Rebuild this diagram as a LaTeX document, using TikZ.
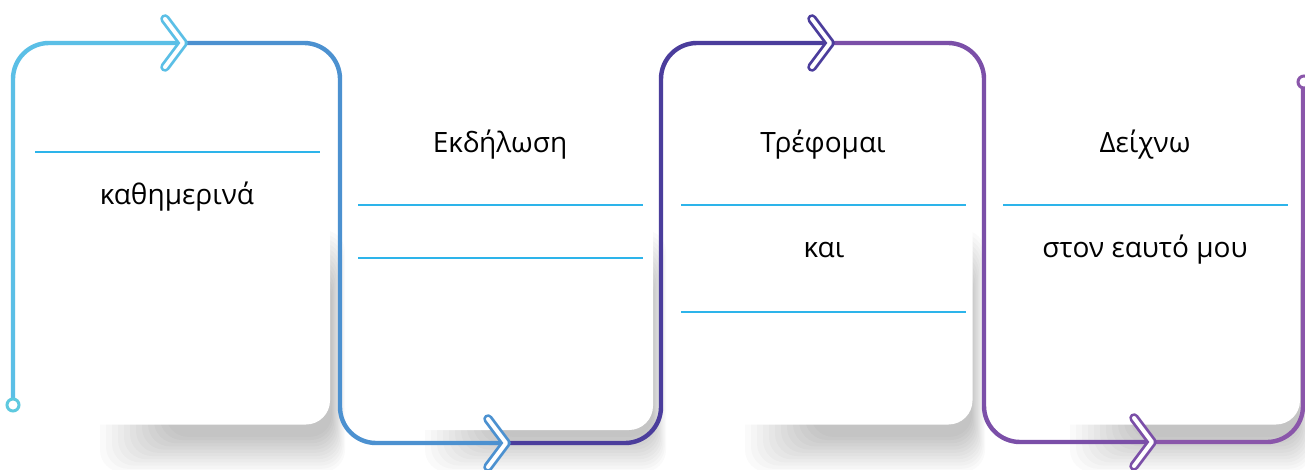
\documentclass[tikz,border=0pt]{standalone}
\usepackage{fontspec}
\setmainfont{Open Sans}
\definecolor{cA}{HTML}{5BBFE6}
\definecolor{cAa}{HTML}{5EC9DF}
\definecolor{cB}{HTML}{4C91D0}
\definecolor{cC}{HTML}{4B3D9C}
\definecolor{cD}{HTML}{7B4FA8}
\definecolor{cE}{HTML}{8A56AA}
\definecolor{rule}{HTML}{2DB4EA}
\tikzset{
  track/.style={line width=4.4pt, rounded corners=36pt, line cap=round},
  chev/.style={line width=2.8pt, double=white, double distance=4pt, line cap=round, line join=round},
  card/.style={rectangle, rounded corners=24pt, fill=white, draw=none, inner sep=0pt},
  shadowlayer/.style={fill=black, fill opacity=0.02, rounded corners=22pt},
  rulel/.style={draw=rule, line width=1.5pt},
  lbl/.style={anchor=base, inner sep=0pt, font=\fontsize{28}{32}\selectfont},
  endpt/.style={circle, minimum size=12pt, inner sep=0pt, fill=white, line width=3pt}
}
\begin{document}
\begin{tikzpicture}[x=1pt,y=-1pt]
\useasboundingbox (0,0) rectangle (1305,470);
\fill[white] (0,0) rectangle (1305,470);
% shadows (stacked translucent layers)
\foreach \xa/\xb in {100/345, 425/666, 745/985, 1070/1312}{
  \foreach \k in {0,...,11}{
    \fill[shadowlayer] (\xa+6*\k,230+4*\k) rectangle (\xb-1.2*\k,472-3.2*\k);
  }
}
% cards
\node[card, minimum width=312pt, minimum height=395pt] (card1) at (174,227) {};
\node[card, minimum width=308pt, minimum height=400pt] (card2) at (499,230) {};
\node[card, minimum width=305pt, minimum height=395pt] (card3) at (820,227) {};
\node[card, minimum width=310pt, minimum height=395pt] (card4) at (1145,227) {};
% rules
\draw[rulel] (35,152) -- (320,152);
\draw[rulel] (358,205) -- (643,205);
\draw[rulel] (358,258) -- (643,258);
\draw[rulel] (681,205) -- (966,205);
\draw[rulel] (681,312) -- (966,312);
\draw[rulel] (1003,205) -- (1288,205);
% labels
\node[lbl] (t1) at (177,205) {καθημερινά};
\node[lbl] (t2) at (500,153) {Εκδήλωση};
\node[lbl] (t3) at (823,153) {Τρέφομαι};
\node[lbl] (t4) at (824,258) {και};
\node[lbl] (t5) at (1145,153) {Δείχνω};
\node[lbl] (t6) at (1145,258) {στον εαυτό μου};
% track coordinates
\coordinate (s) at (13,405);
\coordinate (k1) at (13,43);
\coordinate (a1) at (183,43);
\coordinate (k2) at (340,43);
\coordinate (k3) at (340,443);
\coordinate (a2) at (506,443);
\coordinate (k4) at (661,443);
\coordinate (k5) at (661,43);
\coordinate (a3) at (830,43);
\coordinate (k6) at (984,43);
\coordinate (k7) at (984,442);
\coordinate (a4) at (1152,442);
\coordinate (k8) at (1303,442);
\coordinate (e) at (1303,82);
% track
\draw[track, cA] (s) -- (k1) -- (a1);
\draw[track, cB] (a1) -- (k2) -- (k3) -- (a2);
\draw[track, cC] (a2) -- (k4) -- (k5) -- (a3);
\draw[track, cD] (a3) -- (k6) -- (k7) -- (a4);
\draw[track, cE] (a4) -- (k8) -- (e);
% chevrons
\draw[chev, cA] ([shift={(-18,-24)}]a1) -- (a1) -- ([shift={(-18,24)}]a1);
\draw[chev, cB] ([shift={(-18,-24)}]a2) -- (a2) -- ([shift={(-18,24)}]a2);
\draw[chev, cC] ([shift={(-18,-24)}]a3) -- (a3) -- ([shift={(-18,24)}]a3);
\draw[chev, cD] ([shift={(-18,-24)}]a4) -- (a4) -- ([shift={(-18,24)}]a4);
% end points
\node[endpt, draw=cAa] (start) at (s) {};
\node[endpt, draw=cE] (finish) at ([xshift=1pt]e) {};
\end{tikzpicture}
\end{document}
